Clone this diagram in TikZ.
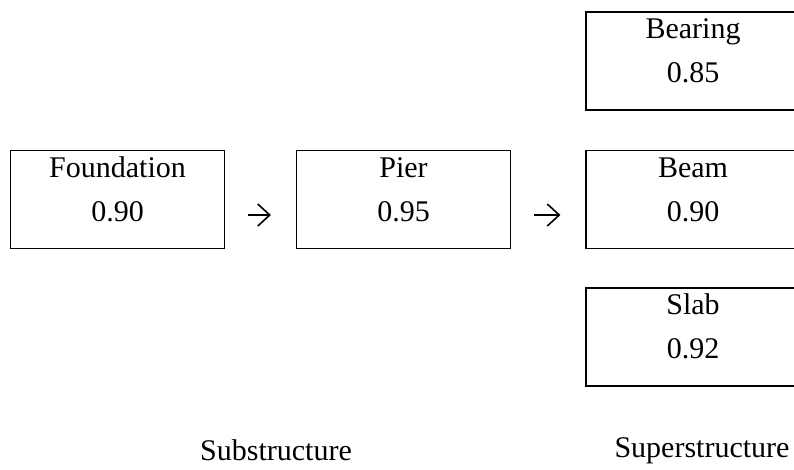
\documentclass[tikz,border=0pt]{standalone}
\usepackage{fontspec}
\setmainfont{Liberation Serif}
\usetikzlibrary{arrows.meta}

% strut that keeps both text lines where the boxes want them
\newcommand{\boxstrut}{\rule[-22pt]{0pt}{43pt}}

\begin{document}
\begin{tikzpicture}[x=1pt, y=-1pt,
    comp/.style={draw, line width=1.1pt, rectangle, minimum width=214pt,
      minimum height=98pt, inner sep=0pt, align=center,
      font=\fontsize{30}{42}\selectfont},
    flow/.style={line width=1.6pt, -{Straight Barb[length=12pt, width=22pt, line width=1.6pt]},
      shorten <=23pt, shorten >=25pt},
    part/.style={anchor=base, font=\fontsize{30}{36}\selectfont}]
  \useasboundingbox (0,0) rectangle (794,469);

  % substructure
  \node[comp] (found) at (117.5,199.5) {\boxstrut Foundation\\\boxstrut 0.90};
  \node[comp] (pier) at (403.5,199.5) {\boxstrut Pier\\\boxstrut 0.95};

  % superstructure
  \node[comp] (bearing) at (693,61) {\boxstrut Bearing\\\boxstrut 0.85};
  \node[comp] (beam) at (693,199.5) {\boxstrut Beam\\\boxstrut 0.90};
  \node[comp] (slab) at (693,337) {\boxstrut Slab\\\boxstrut 0.92};

  \draw[flow] ([yshift=-15.5pt]found.east) -- ([yshift=-15.5pt]pier.west);
  \draw[flow] ([yshift=-15.5pt]pier.east) -- ([yshift=-15.5pt]beam.west);

  \node[part] (sub) at (276,460) {Substructure};
  \node[part] (super) at (702,457) {Superstructure};
\end{tikzpicture}
\end{document}
